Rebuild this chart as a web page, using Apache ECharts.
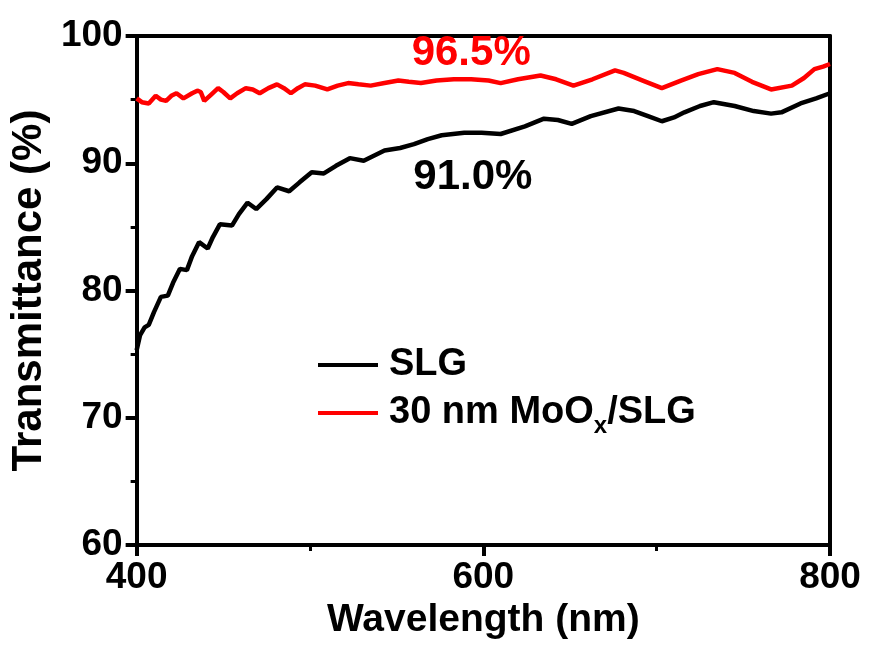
<!DOCTYPE html>
<html>
<head>
<meta charset="utf-8">
<script src="https://cdn.jsdelivr.net/npm/echarts@6/dist/echarts.min.js"></script>
<style>html,body{margin:0;padding:0;background:#fff;}#c{width:869px;height:652px;}</style>
</head>
<body>
<div id="c"></div>
<script>
// Wavelength (nm) and transmittance (%)
const slgWavelength = [400,402,404.6,407,410,414,418,421,425,429,432,436,441,444,448,455,459,464,469,475,481,488,494,501,508,515,523,531,543,552,560,568,576,589,599,610,624,635,643,651,662,678,687,695,703,710,716,725,733,745,756,766,772,783,792,800];
const slgT = [75.3,76.5,77.1,77.3,78.3,79.5,79.6,80.6,81.7,81.6,82.7,83.8,83.3,84.2,85.2,85.1,86.0,86.9,86.4,87.2,88.1,87.8,88.5,89.3,89.2,89.8,90.4,90.2,91.0,91.2,91.5,91.9,92.2,92.4,92.4,92.3,92.9,93.5,93.4,93.1,93.7,94.3,94.1,93.7,93.3,93.6,94.0,94.5,94.8,94.5,94.1,93.9,94.0,94.7,95.1,95.5];

const mooxWavelength = [400,403,407,411,414,417,420,423,427,432,435,437,439,443,447,450,454,458,463,467,471,476,481,485,489,493,497,503,510,516,522,528,535,543,551,557,564,573,583,593,603,610,620,633,642,652,663,676,681,692,703,714,724,735,745,755,766,778,785,791,796,800];
const mooxT = [95.1,94.8,94.7,95.3,95.0,94.9,95.3,95.5,95.1,95.5,95.7,95.6,94.9,95.4,95.9,95.6,95.1,95.5,95.9,95.8,95.5,95.9,96.2,95.9,95.5,95.9,96.2,96.1,95.8,96.1,96.3,96.2,96.1,96.3,96.5,96.4,96.3,96.5,96.6,96.6,96.5,96.3,96.6,96.9,96.6,96.1,96.6,97.3,97.1,96.5,95.9,96.5,97.0,97.4,97.1,96.4,95.8,96.1,96.7,97.4,97.6,97.8];

const seriesNames = ['SLG', '30 nm MoOx/SLG'];
const annotationText = ['91.0%', '96.5%'];
const annotationAt = [[594, 88.9], [593, 98.6]];

const xTicks = [400, 600, 800];
const yTicks = [60, 70, 80, 90, 100];

const FONT = 'Liberation Sans, Arial, Helvetica, sans-serif';
const chart = echarts.init(document.getElementById('c'), null, {renderer: 'canvas'});

function pairs(xs, ys) { return xs.map((x, i) => [x, ys[i]]); }

const axisCommon = {
  axisLine: {show: true, onZero: false, lineStyle: {color: '#000', width: 4}},
  splitLine: {show: false}
};

chart.setOption({
  backgroundColor: '#fff',
  animation: false,
  grid: {left: 135, right: 39, top: 36, bottom: 107, show: false},
  legend: {
    orient: 'vertical',
    left: 313,
    top: 341,
    icon: 'rect',
    itemWidth: 60,
    itemHeight: 4,
    itemGap: 10,
    data: seriesNames,
    formatter: function (n) { return n === seriesNames[1] ? '30 nm MoO{sub|x}/SLG' : n; },
    textStyle: {
      fontFamily: FONT, fontWeight: 'bold', fontSize: 38, color: '#000',
      padding: [0, 0, 0, 6],
      rich: {
        sub: {fontFamily: FONT, fontWeight: 'bold', fontSize: 24, color: '#000', padding: [26, 0, 0, 0]}
      }
    }
  },
  xAxis: [{
    type: 'value', position: 'bottom', min: 400, max: 800, interval: 200,
    ...axisCommon,
    axisTick: {show: true, inside: false, length: 11, lineStyle: {color: '#000', width: 4}},
    minorTick: {show: true, splitNumber: 2, length: 6, lineStyle: {color: '#000', width: 3}},
    axisLabel: {
      margin: 14, color: '#000', fontFamily: FONT, fontWeight: 'bold', fontSize: 37,
      formatter: v => xTicks.includes(v) ? String(v) : ''
    },
    name: 'Wavelength (nm)', nameLocation: 'middle', nameGap: 52,
    nameTextStyle: {color: '#000', fontFamily: FONT, fontWeight: 'bold', fontSize: 39}
  }, {
    type: 'value', position: 'top', min: 400, max: 800, interval: 200,
    ...axisCommon,
    axisTick: {show: false}, axisLabel: {show: false}
  }],
  yAxis: [{
    type: 'value', position: 'left', min: 60, max: 100, interval: 10,
    ...axisCommon,
    axisTick: {show: true, inside: false, length: 11, lineStyle: {color: '#000', width: 4}},
    minorTick: {show: true, splitNumber: 2, length: 6, lineStyle: {color: '#000', width: 3}},
    axisLabel: {
      margin: 14, color: '#000', fontFamily: FONT, fontWeight: 'bold', fontSize: 37,
      formatter: v => yTicks.includes(v) ? String(v) : ''
    },
    name: 'Transmittance (%)', nameLocation: 'middle', nameGap: 84,
    nameTextStyle: {color: '#000', fontFamily: FONT, fontWeight: 'bold', fontSize: 42}
  }, {
    type: 'value', position: 'right', min: 60, max: 100, interval: 10,
    ...axisCommon,
    axisTick: {show: false}, axisLabel: {show: false}
  }],
  series: [{
    name: seriesNames[0], type: 'line', data: pairs(slgWavelength, slgT),
    showSymbol: false, symbol: 'none', color: '#000',
    lineStyle: {color: '#000', width: 4.5},
    markPoint: {
      symbol: 'circle', symbolSize: 0, silent: true,
      label: {show: true, position: 'inside', color: '#000', fontFamily: FONT, fontWeight: 'bold', fontSize: 42, formatter: () => annotationText[0]},
      data: [{coord: annotationAt[0]}]
    }
  }, {
    name: seriesNames[1], type: 'line', data: pairs(mooxWavelength, mooxT),
    showSymbol: false, symbol: 'none', color: '#ff0000',
    lineStyle: {color: '#ff0000', width: 4.5},
    markPoint: {
      symbol: 'circle', symbolSize: 0, silent: true,
      label: {show: true, position: 'inside', color: '#ff0000', fontFamily: FONT, fontWeight: 'bold', fontSize: 42, formatter: () => annotationText[1]},
      data: [{coord: annotationAt[1]}]
    }
  }]
});
</script>
</body>
</html>
